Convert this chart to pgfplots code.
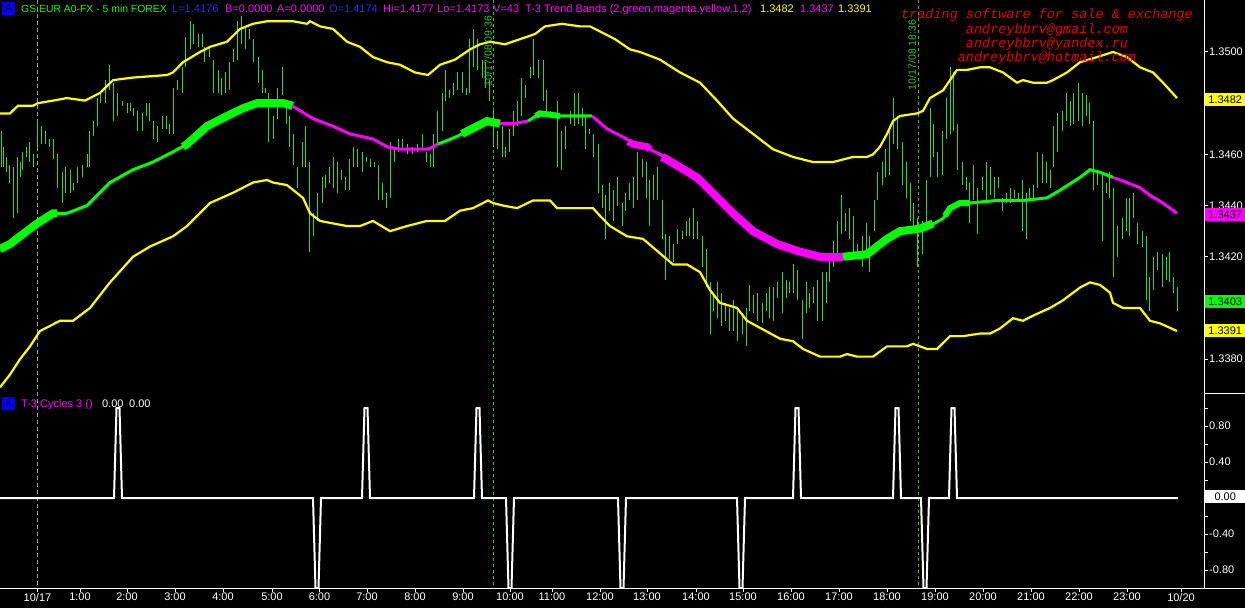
\documentclass[border=0pt]{standalone}
\usepackage{fontspec}
\setmainfont{Liberation Sans}
\setmonofont{Liberation Mono}
\usepackage{pgfplots}
\usepackage{pgfplotstable}
\pgfplotsset{compat=1.18}

\definecolor{barg}{RGB}{50,215,50}
\definecolor{lgreen}{RGB}{0,255,0}
\definecolor{mag}{RGB}{255,0,255}
\definecolor{yel}{RGB}{255,255,0}
\definecolor{hblue}{RGB}{40,40,255}
\definecolor{redt}{RGB}{230,0,0}
\definecolor{dgreen}{RGB}{40,200,40}

% 5-min bars: x position, low, high
\pgfplotstableread{
x lo hi
1 1.3455 1.3469
3 1.3455 1.3463
6 1.3453 1.3459
9 1.3449 1.3456
13 1.3435 1.3455
17 1.3437 1.3459
20 1.3451 1.3457
22 1.3454 1.3461
26 1.3459 1.3463
29 1.3457 1.3465
33 1.3455 1.3460
37 1.3462 1.3473
41 1.3464 1.3471
45 1.3464 1.3469
49 1.3463 1.3466
53 1.3458 1.3466
57 1.3447 1.3460
62 1.3441 1.3453
65 1.3445 1.3455
70 1.3445 1.3454
73 1.3446 1.3449
77 1.3449 1.3455
82 1.3451 1.3456
87 1.3455 1.3460
89 1.3455 1.3469
93 1.3467 1.3473
97 1.3471 1.3482
100 1.3480 1.3484
105 1.3480 1.3489
109 1.3485 1.3495
113 1.3473 1.3488
117 1.3475 1.3484
122 1.3479 1.3481
127 1.3476 1.3480
130 1.3477 1.3480
133 1.3475 1.3478
137 1.3469 1.3477
142 1.3469 1.3476
146 1.3475 1.3480
149 1.3473 1.3480
153 1.3466 1.3473
157 1.3465 1.3471
162 1.3470 1.3475
166 1.3470 1.3475
169 1.3468 1.3472
173 1.3468 1.3486
177 1.3485 1.3489
182 1.3484 1.3494
185 1.3494 1.3506
190 1.3501 1.3512
193 1.3503 1.3511
198 1.3502 1.3507
202 1.3502 1.3507
204 1.3496 1.3502
209 1.3498 1.3502
213 1.3484 1.3497
218 1.3484 1.3493
221 1.3483 1.3490
225 1.3484 1.3492
229 1.3485 1.3496
233 1.3496 1.3501
237 1.3497 1.3512
241 1.3503 1.3514
245 1.3501 1.3510
249 1.3505 1.3509
253 1.3496 1.3505
258 1.3488 1.3498
262 1.3484 1.3493
265 1.3484 1.3486
268 1.3465 1.3484
273 1.3466 1.3475
277 1.3474 1.3486
282 1.3483 1.3494
286 1.3472 1.3481
289 1.3463 1.3475
293 1.3456 1.3468
297 1.3447 1.3455
302 1.3455 1.3465
305 1.3455 1.3471
309 1.3422 1.3457
313 1.3428 1.3437
317 1.3434 1.3445
322 1.3441 1.3451
325 1.3447 1.3452
329 1.3449 1.3455
333 1.3447 1.3459
337 1.3445 1.3457
341 1.3450 1.3454
345 1.3446 1.3451
349 1.3446 1.3458
353 1.3455 1.3463
357 1.3455 1.3462
362 1.3453 1.3461
366 1.3457 1.3459
370 1.3455 1.3458
374 1.3455 1.3457
378 1.3442 1.3456
382 1.3442 1.3449
386 1.3439 1.3445
390 1.3443 1.3465
394 1.3457 1.3462
398 1.3461 1.3466
402 1.3462 1.3466
407 1.3460 1.3464
412 1.3460 1.3463
417 1.3461 1.3464
422 1.3462 1.3468
426 1.3457 1.3461
430 1.3455 1.3460
433 1.3455 1.3468
437 1.3464 1.3477
442 1.3469 1.3484
445 1.3481 1.3493
449 1.3482 1.3485
453 1.3483 1.3488
457 1.3485 1.3492
462 1.3484 1.3492
466 1.3483 1.3486
469 1.3484 1.3505
473 1.3494 1.3509
477 1.3493 1.3505
482 1.3490 1.3497
485 1.3486 1.3496
489 1.3481 1.3489
493 1.3463 1.3477
497 1.3462 1.3469
502 1.3459 1.3471
505 1.3459 1.3463
509 1.3461 1.3470
513 1.3467 1.3477
517 1.3471 1.3481
521 1.3475 1.3490
525 1.3482 1.3487
530 1.3490 1.3494
533 1.3491 1.3505
538 1.3490 1.3497
543 1.3481 1.3497
546 1.3476 1.3485
550 1.3475 1.3477
557 1.3455 1.3481
561 1.3454 1.3469
565 1.3462 1.3471
570 1.3472 1.3477
574 1.3471 1.3484
578 1.3472 1.3484
582 1.3471 1.3478
585 1.3462 1.3475
589 1.3468 1.3470
593 1.3459 1.3468
598 1.3445 1.3464
602 1.3439 1.3448
605 1.3427 1.3444
609 1.3438 1.3449
613 1.3434 1.3446
617 1.3440 1.3451
622 1.3432 1.3441
625 1.3438 1.3445
629 1.3442 1.3449
633 1.3439 1.3451
637 1.3442 1.3461
642 1.3451 1.3458
646 1.3443 1.3457
649 1.3432 1.3450
653 1.3442 1.3452
657 1.3442 1.3455
662 1.3427 1.3442
665 1.3411 1.3429
669 1.3419 1.3428
673 1.3418 1.3425
677 1.3425 1.3431
682 1.3427 1.3430
686 1.3428 1.3434
689 1.3428 1.3435
693 1.3427 1.3439
697 1.3427 1.3434
702 1.3416 1.3428
706 1.3408 1.3423
710 1.3390 1.3410
713 1.3399 1.3406
717 1.3396 1.3410
721 1.3393 1.3406
725 1.3395 1.3402
729 1.3391 1.3400
733 1.3391 1.3403
737 1.3387 1.3399
742 1.3390 1.3398
746 1.3385 1.3400
749 1.3399 1.3409
753 1.3398 1.3405
757 1.3395 1.3406
762 1.3394 1.3402
766 1.3399 1.3406
769 1.3396 1.3408
773 1.3395 1.3408
777 1.3404 1.3410
782 1.3398 1.3414
786 1.3404 1.3411
789 1.3406 1.3410
793 1.3406 1.3417
797 1.3403 1.3415
802 1.3388 1.3403
806 1.3398 1.3410
809 1.3400 1.3406
813 1.3402 1.3408
817 1.3395 1.3411
822 1.3395 1.3414
826 1.3402 1.3414
829 1.3410 1.3420
833 1.3416 1.3426
837 1.3421 1.3434
841 1.3429 1.3444
845 1.3430 1.3437
849 1.3427 1.3439
853 1.3419 1.3436
857 1.3420 1.3425
862 1.3416 1.3428
866 1.3421 1.3433
869 1.3414 1.3428
874 1.3430 1.3442
877 1.3442 1.3453
882 1.3448 1.3457
885 1.3451 1.3462
889 1.3452 1.3471
893 1.3464 1.3482
897 1.3462 1.3475
902 1.3448 1.3465
906 1.3443 1.3457
910 1.3434 1.3449
913 1.3430 1.3441
917 1.3416 1.3435
922 1.3421 1.3434
926 1.3433 1.3450
930 1.3451 1.3478
933 1.3459 1.3472
937 1.3451 1.3461
942 1.3452 1.3469
946 1.3466 1.3482
950 1.3468 1.3494
953 1.3469 1.3492
957 1.3454 1.3472
962 1.3448 1.3457
966 1.3446 1.3451
969 1.3433 1.3449
973 1.3442 1.3456
977 1.3429 1.3447
982 1.3446 1.3451
986 1.3441 1.3457
990 1.3444 1.3455
994 1.3443 1.3451
998 1.3447 1.3451
1002 1.3438 1.3443
1006 1.3441 1.3445
1010 1.3441 1.3447
1014 1.3443 1.3446
1018 1.3442 1.3445
1022 1.3430 1.3450
1026 1.3427 1.3445
1029 1.3443 1.3447
1033 1.3443 1.3448
1037 1.3447 1.3461
1042 1.3449 1.3460
1046 1.3449 1.3457
1050 1.3447 1.3454
1053 1.3455 1.3471
1057 1.3461 1.3476
1062 1.3469 1.3477
1066 1.3473 1.3484
1070 1.3471 1.3481
1073 1.3472 1.3484
1078 1.3473 1.3488
1082 1.3471 1.3484
1086 1.3475 1.3483
1089 1.3472 1.3480
1093 1.3446 1.3473
1097 1.3448 1.3453
1102 1.3426 1.3452
1106 1.3445 1.3449
1109 1.3443 1.3453
1113 1.3412 1.3447
1117 1.3420 1.3432
1122 1.3427 1.3435
1126 1.3430 1.3443
1129 1.3428 1.3443
1133 1.3435 1.3445
1137 1.3425 1.3433
1142 1.3424 1.3430
1146 1.3403 1.3428
1149 1.3399 1.3412
1153 1.3407 1.3420
1157 1.3415 1.3422
1162 1.3408 1.3421
1166 1.3411 1.3420
1169 1.3410 1.3422
1173 1.3406 1.3412
1177 1.3399 1.3408
}\bars

\pgfplotstableread{
x y
0 1.3476
10 1.3476
18 1.3479
33 1.3479
38 1.3480
53 1.3481
67 1.3482
85 1.3481
100 1.3484
113 1.3489
133 1.3490
167 1.3491
173 1.3492
183 1.3496
200 1.3500
210 1.3502
227 1.3504
240 1.3509
253 1.3511
267 1.3512
280 1.3512
293 1.3512
307 1.3511
310 1.3512
320 1.3510
333 1.3509
347 1.3504
360 1.3502
373 1.3498
387 1.3496
400 1.3495
415 1.3492
428 1.3491
440 1.3495
455 1.3497
470 1.3501
480 1.3503
490 1.3504
505 1.3503
520 1.3505
535 1.3507
545 1.3510
562 1.3511
580 1.3510
590 1.3510
600 1.3508
615 1.3505
630 1.3501
640 1.3500
660 1.3497
680 1.3492
700 1.3488
717 1.3481
733 1.3474
753 1.3468
773 1.3462
793 1.3459
813 1.3457
833 1.3457
853 1.3459
867 1.3459
873 1.3460
880 1.3463
887 1.3468
893 1.3473
900 1.3475
917 1.3476
923 1.3477
930 1.3482
943 1.3485
957 1.3493
967 1.3493
980 1.3494
990 1.3494
1003 1.3492
1017 1.3488
1023 1.3489
1033 1.3488
1047 1.3488
1053 1.3489
1067 1.3492
1080 1.3496
1097 1.3498
1113 1.3500
1127 1.3498
1140 1.3494
1153 1.3492
1163 1.3488
1177 1.3482
}\upband

\pgfplotstableread{
x y
0 1.3369
10 1.3374
20 1.3380
30 1.3385
40 1.3391
50 1.3393
60 1.3395
73 1.3395
90 1.3400
110 1.3410
133 1.3420
150 1.3424
173 1.3428
187 1.3432
210 1.3441
233 1.3445
253 1.3449
267 1.3450
273 1.3449
287 1.3448
303 1.3443
310 1.3437
320 1.3434
347 1.3432
360 1.3432
373 1.3434
390 1.3430
407 1.3432
427 1.3434
445 1.3434
460 1.3438
473 1.3439
488 1.3442
493 1.3441
503 1.3440
517 1.3439
533 1.3442
550 1.3442
557 1.3439
563 1.3439
573 1.3439
593 1.3439
600 1.3436
610 1.3432
627 1.3428
643 1.3427
667 1.3419
673 1.3417
687 1.3417
700 1.3414
710 1.3407
720 1.3402
737 1.3400
747 1.3395
780 1.3388
793 1.3387
803 1.3384
820 1.3381
840 1.3381
847 1.3382
857 1.3381
873 1.3381
887 1.3385
907 1.3385
913 1.3386
927 1.3384
937 1.3384
950 1.3389
963 1.3389
980 1.3390
990 1.3390
1000 1.3392
1013 1.3396
1023 1.3395
1033 1.3397
1050 1.3400
1063 1.3403
1080 1.3408
1090 1.3410
1100 1.3409
1110 1.3406
1113 1.3402
1123 1.3400
1140 1.3400
1150 1.3395
1160 1.3394
1177 1.3391
}\loband

\begin{document}
\begin{tikzpicture}[font=\fontsize{11}{13}\selectfont]
\fill[black] (0,0) rectangle (1245pt,608pt);
\useasboundingbox (0,0) rectangle (1245pt,608pt);

% session separators
\begin{scope}[x=1pt, y=-1pt, shift={(0pt,608pt)}]
  \draw[gray!75, line width=1pt, dash pattern=on 4pt off 3pt] (37,0) -- (37,588);
  \draw[dgreen, line width=1pt, dash pattern=on 3pt off 3pt] (493,0) -- (493,588);
  \draw[dgreen, line width=1pt, dash pattern=on 3pt off 3pt] (918,0) -- (918,588);
\end{scope}

% price panel
\begin{axis}[
  at={(0pt,214pt)}, anchor=south west,
  width=1204pt, height=394pt, scale only axis,
  xmin=0, xmax=1204, ymin=1.33664, ymax=1.35203,
  axis x line=none, axis y line*=right,
  axis line style={white, line width=1pt, -},
  ytick={1.338,1.340,1.342,1.344,1.346,1.348,1.350},
  yticklabels={1.3380,{},1.3420,1.3440,1.3460,{},1.3500},
  tick align=outside, major tick length=4pt,
  tick style={white, line width=1pt},
  tick label style={font=\fontsize{11}{13}\selectfont, text=white},
  yticklabel style={anchor=west, inner sep=0pt, xshift=1pt},
]
\addplot[draw=none, mark=none,
  error bars/.cd, y dir=plus, y explicit, error mark=none,
  error bar style={draw=barg, line width=1pt, solid}]
  table[x=x, y=lo, y error plus expr={\thisrow{hi}-\thisrow{lo}}] {\bars};

\addplot[yel, line width=2.2pt] table[x=x, y=y] {\upband};
\addplot[yel, line width=2.2pt] table[x=x, y=y] {\loband};

% T-3 centre line, thin and thick stretches
\addplot[lgreen, line width=8pt] coordinates {(0,1.3423) (10,1.3425) (20,1.3428) (37,1.3433) (53,1.3437) (57,1.3437)};
\addplot[lgreen, line width=3pt] coordinates {(53,1.3437) (67,1.3437) (87,1.3440) (110,1.3449) (133,1.3454) (153,1.3457) (173,1.3461) (187,1.3464)};
\addplot[lgreen, line width=8pt] coordinates {(183,1.3463) (187,1.3464) (207,1.3471) (227,1.3475) (243,1.3478) (257,1.3480) (283,1.3480) (293,1.3479)};
\addplot[mag, line width=3pt] coordinates {(292,1.3479) (313,1.3474) (333,1.3471) (350,1.3468) (373,1.3466) (387,1.3463) (400,1.3462) (428,1.3462) (438,1.3464)};
\addplot[lgreen, line width=3pt] coordinates {(438,1.3464) (457,1.3467) (462,1.3468)};
\addplot[lgreen, line width=8pt] coordinates {(462,1.3468) (487,1.3473) (500,1.3472)};
\addplot[mag, line width=3pt] coordinates {(500,1.3472) (513,1.3472) (528,1.3473)};
\addplot[lgreen, line width=3pt] coordinates {(528,1.3473) (540,1.3476) (557,1.3475) (592,1.3475)};
\addplot[lgreen, line width=6pt] coordinates {(536,1.3475) (540,1.3476) (560,1.3475)};
\addplot[mag, line width=3pt] coordinates {(592,1.3475) (607,1.3470) (627,1.3466) (633,1.3464)};
\addplot[mag, line width=7pt] coordinates {(628,1.3465) (633,1.3464) (647,1.3463) (650,1.3462)};
\addplot[mag, line width=3pt] coordinates {(650,1.3462) (660,1.3460) (665,1.3459)};
\addplot[mag, line width=8pt] coordinates {(662,1.3459) (667,1.3458) (697,1.3451) (710,1.3446) (733,1.3437) (753,1.3430) (777,1.3425) (800,1.3422) (820,1.3420) (843,1.3420)};
\addplot[lgreen, line width=8pt] coordinates {(843,1.3420) (867,1.3421) (887,1.3427) (900,1.3430) (920,1.3431) (933,1.3433)};
\addplot[lgreen, line width=3pt] coordinates {(930,1.3432) (943,1.3435) (947,1.3437)};
\addplot[lgreen, line width=6pt] coordinates {(945,1.3436) (950,1.3439) (960,1.3441) (970,1.3441)};
\addplot[lgreen, line width=3pt] coordinates {(970,1.3441) (997,1.3442) (1023,1.3442) (1047,1.3443) (1060,1.3446) (1080,1.3451) (1090,1.3454) (1100,1.3453) (1113,1.3451)};
\addplot[mag, line width=3pt] coordinates {(1113,1.3451) (1127,1.3449) (1140,1.3447) (1150,1.3444) (1163,1.3441) (1177,1.3437)};
\end{axis}

% cycles panel
\begin{axis}[
  at={(0pt,20pt)}, anchor=south west,
  width=1204pt, height=194pt, scale only axis,
  xmin=0, xmax=1204, ymin=-1.0, ymax=1.1556,
  axis x line*=bottom, axis y line*=right,
  axis line style={white, line width=1pt, -},
  xtick={37.5,80,127,175,223,272,319.5,367,415,463,510,552,600,647,696,743,791,839,887,935,983,1031,1079,1127,1181},
  xticklabels={10/17,1:00,2:00,3:00,4:00,5:00,6:00,7:00,8:00,9:00,10:00,11:00,12:00,13:00,14:00,15:00,16:00,17:00,18:00,19:00,20:00,21:00,22:00,23:00,10/20},
  ytick={-0.8,-0.4,0,0.4,0.8},
  yticklabels={-0.80,-0.40,{},0.40,0.80},
  minor ytick={-0.6,-0.2,0.2,0.6,1.0},
  tick align=outside, major tick length=4pt, minor tick length=4pt,
  tick style={white, line width=1pt},
  tick label style={font=\fontsize{11}{13}\selectfont, text=white},
  yticklabel style={anchor=west, inner sep=0pt, xshift=1pt},
  xticklabel style={anchor=north, inner sep=0pt, yshift=-1pt},
]
\addplot[white, line width=2pt] coordinates {
  (0,0) (114,0) (116.5,1) (119.5,1) (122,0)
  (313,0) (315.5,-1) (318.5,-1) (321,0)
  (362,0) (364.5,1) (367.5,1) (370,0)
  (474,0) (476.5,1) (479.5,1) (482,0)
  (506,0) (508.5,-1) (511.5,-1) (514,0)
  (618,0) (620.5,-1) (623.5,-1) (626,0)
  (737,0) (739.5,-1) (742.5,-1) (745,0)
  (793,0) (795.5,1) (798.5,1) (801,0)
  (893,0) (895.5,1) (898.5,1) (901,0)
  (921,0) (923.5,-1) (926.5,-1) (929,0)
  (949,0) (951.5,1) (954.5,1) (957,0)
  (1178,0)};
\end{axis}

% labels and overlays, in pixel coordinates from the top left
\begin{scope}[x=1pt, y=-1pt, shift={(0pt,608pt)}]
  \draw[white, line width=1pt] (1204,394) -- (1245,394);
  \draw[white, line width=1pt] (1204,588) -- (1245,588);

  \fill[blue] (2,2) rectangle (15,15);
  \node[black, font=\fontsize{10}{12}\selectfont] at (8.5,8.5) {A};
  \fill[blue] (2,397) rectangle (15,410);
  \node[black, font=\fontsize{10}{12}\selectfont] at (8.5,403.5) {A};

  \begin{scope}[every node/.style={anchor=base west, inner sep=0pt}]
    \node[lgreen, font=\fontsize{10.4}{13}\selectfont] at (21,13) {GS:EUR A0-FX - 5 min\ FOREX};
    \node[hblue] at (172,13) {L=1.4176};
    \node[mag] at (225,13) {B=0.0000};
    \node[mag] at (277,13) {A=0.0000};
    \node[hblue] at (329,13) {O=1.4174};
    \node[mag] at (383,13) {Hi=1.4177};
    \node[mag] at (437,13) {Lo=1.4173};
    \node[mag] at (493,13) {V=43};
    \node[mag] at (525,13) {T-3 Trend Bands (2,green,magenta,yellow,1,2)};
    \node[yel] at (760,13) {1.3482};
    \node[mag] at (800,13) {1.3437};
    \node[yel] at (838,13) {1.3391};
    \node[mag] at (21,408) {T-3 Cycles 3 ()};
    \node[white] at (102,408) {0.00};
    \node[white] at (129,408) {0.00};
  \end{scope}

  \node[dgreen, rotate=90, inner sep=0pt, font=\fontsize{10.5}{12}\selectfont] at (488,51) {10/17/08 09:36};
  \node[dgreen, rotate=90, inner sep=0pt, font=\fontsize{10.5}{12}\selectfont] at (912,55) {10/17/08 18:36};

  \begin{scope}[every node/.style={anchor=base, inner sep=0pt, redt, font=\fontsize{13.5}{15}\selectfont\ttfamily\itshape}]
    \node at (1047,19) {trading software for sale \& exchange};
    \node at (1047,34) {andreybbrv@gmail.com};
    \node at (1047,48) {andreybbrv@yandex.ru};
    \node at (1047,62) {andreybbrv@hotmail.com};
  \end{scope}

  \begin{scope}[every node/.style={anchor=west, inner sep=0pt, minimum width=40pt, minimum height=13pt, text=black}]
    \node[fill=yel] at (1205,100) {1.3482};
    \node[fill=mag] at (1205,215) {1.3437};
    \node[fill=lgreen] at (1205,302) {1.3403};
    \node[fill=yel] at (1205,331) {1.3391};
    \node[fill=white] at (1205,497) {0.00};
  \end{scope}
\end{scope}
\end{tikzpicture}
\end{document}
